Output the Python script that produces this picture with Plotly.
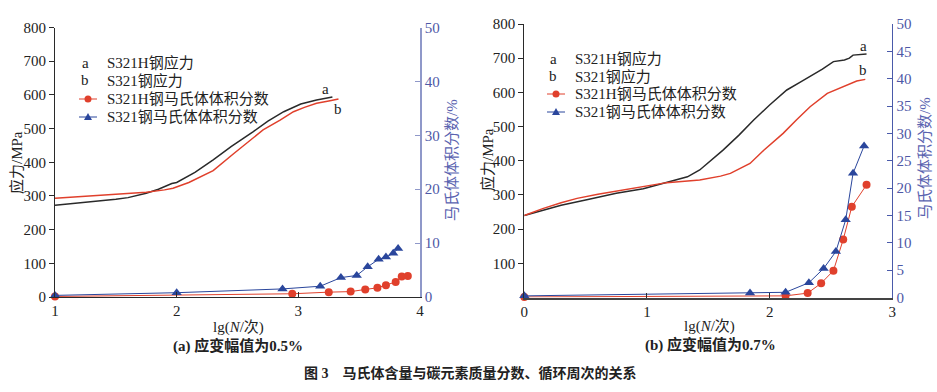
import plotly.graph_objects as go

W, H = 937, 392

# ---------------- data: panel (a) strain amplitude 0.5% ----------------
a_lg_stress_H = [1.0, 1.2, 1.4, 1.5, 1.6, 1.75, 1.85, 1.96, 2.0, 2.15, 2.3, 2.45, 2.63, 2.75, 2.88, 3.02, 3.15, 3.26, 3.28]
a_stress_H = [272, 279, 285, 290, 295, 308, 320, 337, 340, 370, 407, 447, 491, 522, 550, 573, 585, 594, 594]
a_lg_stress_S = [1.0, 1.2, 1.4, 1.5, 1.6, 1.75, 1.9, 1.97, 2.1, 2.3, 2.47, 2.6, 2.71, 2.85, 2.96, 3.05, 3.15, 3.25, 3.33]
a_stress_S = [293, 298, 303, 305, 307, 311, 318, 323, 340, 375, 426, 465, 496, 525, 550, 563, 575, 582, 588]
a_lg_vf_H = [1.0, 2.95, 3.25, 3.43, 3.55, 3.65, 3.72, 3.80, 3.85, 3.90]
a_vf_H = [0.1, 0.6, 0.9, 1.0, 1.4, 1.7, 2.2, 2.8, 3.8, 3.9]
a_lg_vf_S = [1.0, 2.0, 2.87, 3.18, 3.35, 3.48, 3.57, 3.66, 3.72, 3.78, 3.82]
a_vf_S = [0.3, 0.8, 1.5, 2.0, 3.6, 4.0, 5.6, 7.0, 7.4, 8.1, 9.0]

# ---------------- data: panel (b) strain amplitude 0.7% ----------------
b_lg_stress_H = [0, 0.15, 0.3, 0.5, 0.75, 0.97, 1.15, 1.33, 1.43, 1.52, 1.62, 1.75, 1.87, 2.0, 2.14, 2.25, 2.33, 2.43, 2.52, 2.61, 2.65, 2.68, 2.79]
b_stress_H = [240, 256, 270, 285, 305, 318, 335, 353, 373, 400, 431, 475, 519, 563, 607, 630, 646, 668, 690, 695, 700, 709, 712]
b_lg_stress_S = [0, 0.15, 0.3, 0.43, 0.6, 0.89, 1.16, 1.43, 1.6, 1.68, 1.84, 1.95, 2.11, 2.22, 2.33, 2.47, 2.6, 2.71, 2.78]
b_stress_S = [240, 260, 277, 290, 302, 319, 336, 344, 355, 363, 392, 430, 480, 520, 558, 597, 617, 633, 638]
b_lg_vf_H = [0, 2.13, 2.31, 2.42, 2.52, 2.60, 2.67, 2.79]
b_vf_H = [0.1, 0.3, 0.8, 2.6, 4.9, 10.6, 16.6, 20.6]
b_lg_vf_S = [0, 1.84, 2.13, 2.32, 2.44, 2.54, 2.62, 2.68, 2.77]
b_vf_S = [0.3, 0.8, 0.95, 2.7, 5.3, 8.4, 14.2, 22.7, 27.7]

# tick labels
a_xticks = [1, 2, 3, 4]
b_xticks = [0, 1, 2, 3]
a_yticks = [0, 100, 200, 300, 400, 500, 600, 700, 800]
b_yticks = [100, 200, 300, 400, 500, 600, 700, 800]
a_y2ticks = [0, 10, 20, 30, 40, 50]
b_y2ticks = [0, 5, 10, 15, 20, 25, 30, 35, 40, 45, 50]

legend_labels = ["S321H钢应力", "S321钢应力", "S321H钢马氏体体积分数", "S321钢马氏体体积分数"]

BLACK = "#2a2a2a"
RED = "#e0402c"
BLUE = "#2a469c"
AX2_A = "#8f98c9"
AX2_B = "#4a5aaa"
TICKBLUE = "#4e58a6"
TITLEBLUE = "#5a63b0"
FONT = "Liberation Serif, Noto Sans CJK SC"

def px(x):
    return x / W

def py(y):
    return 1 - y / H

fig = go.Figure()

def line(x, y, xa, ya, color):
    fig.add_trace(go.Scatter(x=x, y=y, xaxis=xa, yaxis=ya, mode="lines",
                             line=dict(color=color, width=1.5), showlegend=False,
                             cliponaxis=False))

def mk(x, y, xa, ya, color, symbol, size):
    fig.add_trace(go.Scatter(x=x, y=y, xaxis=xa, yaxis=ya, mode="lines+markers",
                             line=dict(color=color, width=1),
                             marker=dict(color=color, symbol=symbol, size=size),
                             showlegend=False, cliponaxis=False))

# panel a
line(a_lg_stress_H, a_stress_H, "x", "y", BLACK)
line(a_lg_stress_S, a_stress_S, "x", "y", RED)
mk(a_lg_vf_H, a_vf_H, "x", "y2", RED, "circle", 8)
mk(a_lg_vf_S, a_vf_S, "x", "y2", BLUE, "triangle-up", 9)
# panel b
line(b_lg_stress_H, b_stress_H, "x2", "y3", BLACK)
line(b_lg_stress_S, b_stress_S, "x2", "y3", RED)
mk(b_lg_vf_H, b_vf_H, "x2", "y4", RED, "circle", 8)
mk(b_lg_vf_S, b_vf_S, "x2", "y4", BLUE, "triangle-up", 9)

tickfont = dict(family=FONT, size=15, color="#222")
tickfont_b = dict(family=FONT, size=15, color=TICKBLUE)

dom_a_x = [px(55), px(420)]
dom_b_x = [px(524.3), px(892.3)]
dom_a_y = [py(297), py(27.5)]
dom_b_y = [py(297.5), py(24)]

common = dict(showgrid=False, zeroline=False, automargin=False, ticklen=5)

fig.update_layout(
    width=W, height=H, margin=dict(l=0, r=0, t=0, b=0, autoexpand=False),
    paper_bgcolor="white", plot_bgcolor="white", showlegend=False,
    font=dict(family=FONT, size=15, color="#222"),
    xaxis=dict(domain=dom_a_x, range=[1, 4], tickvals=a_xticks, anchor="y",
               showline=True, linecolor=BLACK, linewidth=1, ticks="inside",
               tickcolor=BLACK, tickfont=tickfont, **common),
    yaxis=dict(domain=dom_a_y, range=[0, 800], tickvals=a_yticks, anchor="x",
               showline=True, linecolor=BLACK, linewidth=1, ticks="outside",
               tickcolor=BLACK, tickfont=tickfont, **common),
    yaxis2=dict(domain=dom_a_y, range=[0, 50], tickvals=a_y2ticks, anchor="x",
                overlaying="y", side="right",
                showline=True, linecolor=AX2_A, linewidth=1.5, ticks="inside",
                tickcolor=AX2_A, tickfont=tickfont_b, **common),
    xaxis2=dict(domain=dom_b_x, range=[0, 3], tickvals=b_xticks, anchor="y3",
                showline=True, linecolor="#444", linewidth=1.5, ticks="inside",
                tickcolor=BLACK, tickfont=tickfont, **common),
    yaxis3=dict(domain=dom_b_y, range=[0, 800], tickvals=b_yticks, anchor="x2",
                showline=True, linecolor=BLACK, linewidth=1, ticks="outside",
                tickcolor=BLACK, tickfont=tickfont, **common),
    yaxis4=dict(domain=dom_b_y, range=[0, 50], tickvals=b_y2ticks, anchor="x2",
                overlaying="y3", side="right",
                showline=True, linecolor=AX2_B, linewidth=1.2, ticks="inside",
                tickcolor=AX2_B, tickfont=tickfont_b, **common),
)

ann = []
shapes = []

def text(x, y, s, size=15, color="#222", xanchor="center", angle=0, bold=False):
    if bold:
        s = "<b>" + s + "</b>"
    ann.append(dict(x=px(x), y=py(y), xref="paper", yref="paper", text=s, showarrow=False,
                    font=dict(family=FONT, size=size, color=color), xanchor=xanchor,
                    yanchor="middle", textangle=angle))

def legend(x0, ys):
    text(x0 + 3, ys[0], "a", xanchor="center")
    text(x0 + 3, ys[1], "b", xanchor="center")
    for i, lab in enumerate(legend_labels):
        text(x0 + 23, ys[i], lab, xanchor="left")
    for yy, c in ((ys[2], RED), (ys[3], BLUE)):
        shapes.append(dict(type="line", xref="paper", yref="paper", x0=px(x0 - 3), x1=px(x0 + 15),
                           y0=py(yy), y1=py(yy), line=dict(color=c, width=1)))
    cx = x0 + 6
    shapes.append(dict(type="circle", xref="paper", yref="paper", x0=px(cx - 3.5), x1=px(cx + 3.5),
                       y0=py(ys[2] - 3.5), y1=py(ys[2] + 3.5), fillcolor=RED, line=dict(color=RED, width=0)))
    ty = ys[3]
    path = "M {} {} L {} {} L {} {} Z".format(px(cx - 4), py(ty + 3), px(cx + 4), py(ty + 3), px(cx), py(ty - 4))
    shapes.append(dict(type="path", xref="paper", yref="paper", path=path, fillcolor=BLUE,
                       line=dict(color=BLUE, width=0)))

legend(82, [63, 80, 99, 117])
legend(550, [59, 76, 94, 112])

# curve letters
text(325.5, 89, "a")
text(338, 109, "b")
text(863, 46, "a")
text(863, 70, "b")

# axis titles
text(16, 163, "应力/MPa", angle=-90)
text(452, 160, "马氏体体积分数/%", angle=-90, color=TITLEBLUE)
text(487, 160, "应力/MPa", angle=-90)
text(925, 158, "马氏体体积分数/%", angle=-90, color=TITLEBLUE)
text(238, 327, "lg(<i>N</i>/次)")
text(709, 326, "lg(<i>N</i>/次)")
text(238, 346, "(a) 应变幅值为0.5%", bold=True)
text(710, 345, "(b) 应变幅值为0.7%", bold=True)
text(470, 373, "图 3　马氏体含量与碳元素质量分数、循环周次的关系", size=14, bold=True)

fig.update_layout(annotations=ann, shapes=shapes)
fig.write_html("out.html", config={"displayModeBar": False},
               post_script="document.body.style.margin='0px';document.body.style.overflow='hidden';")
